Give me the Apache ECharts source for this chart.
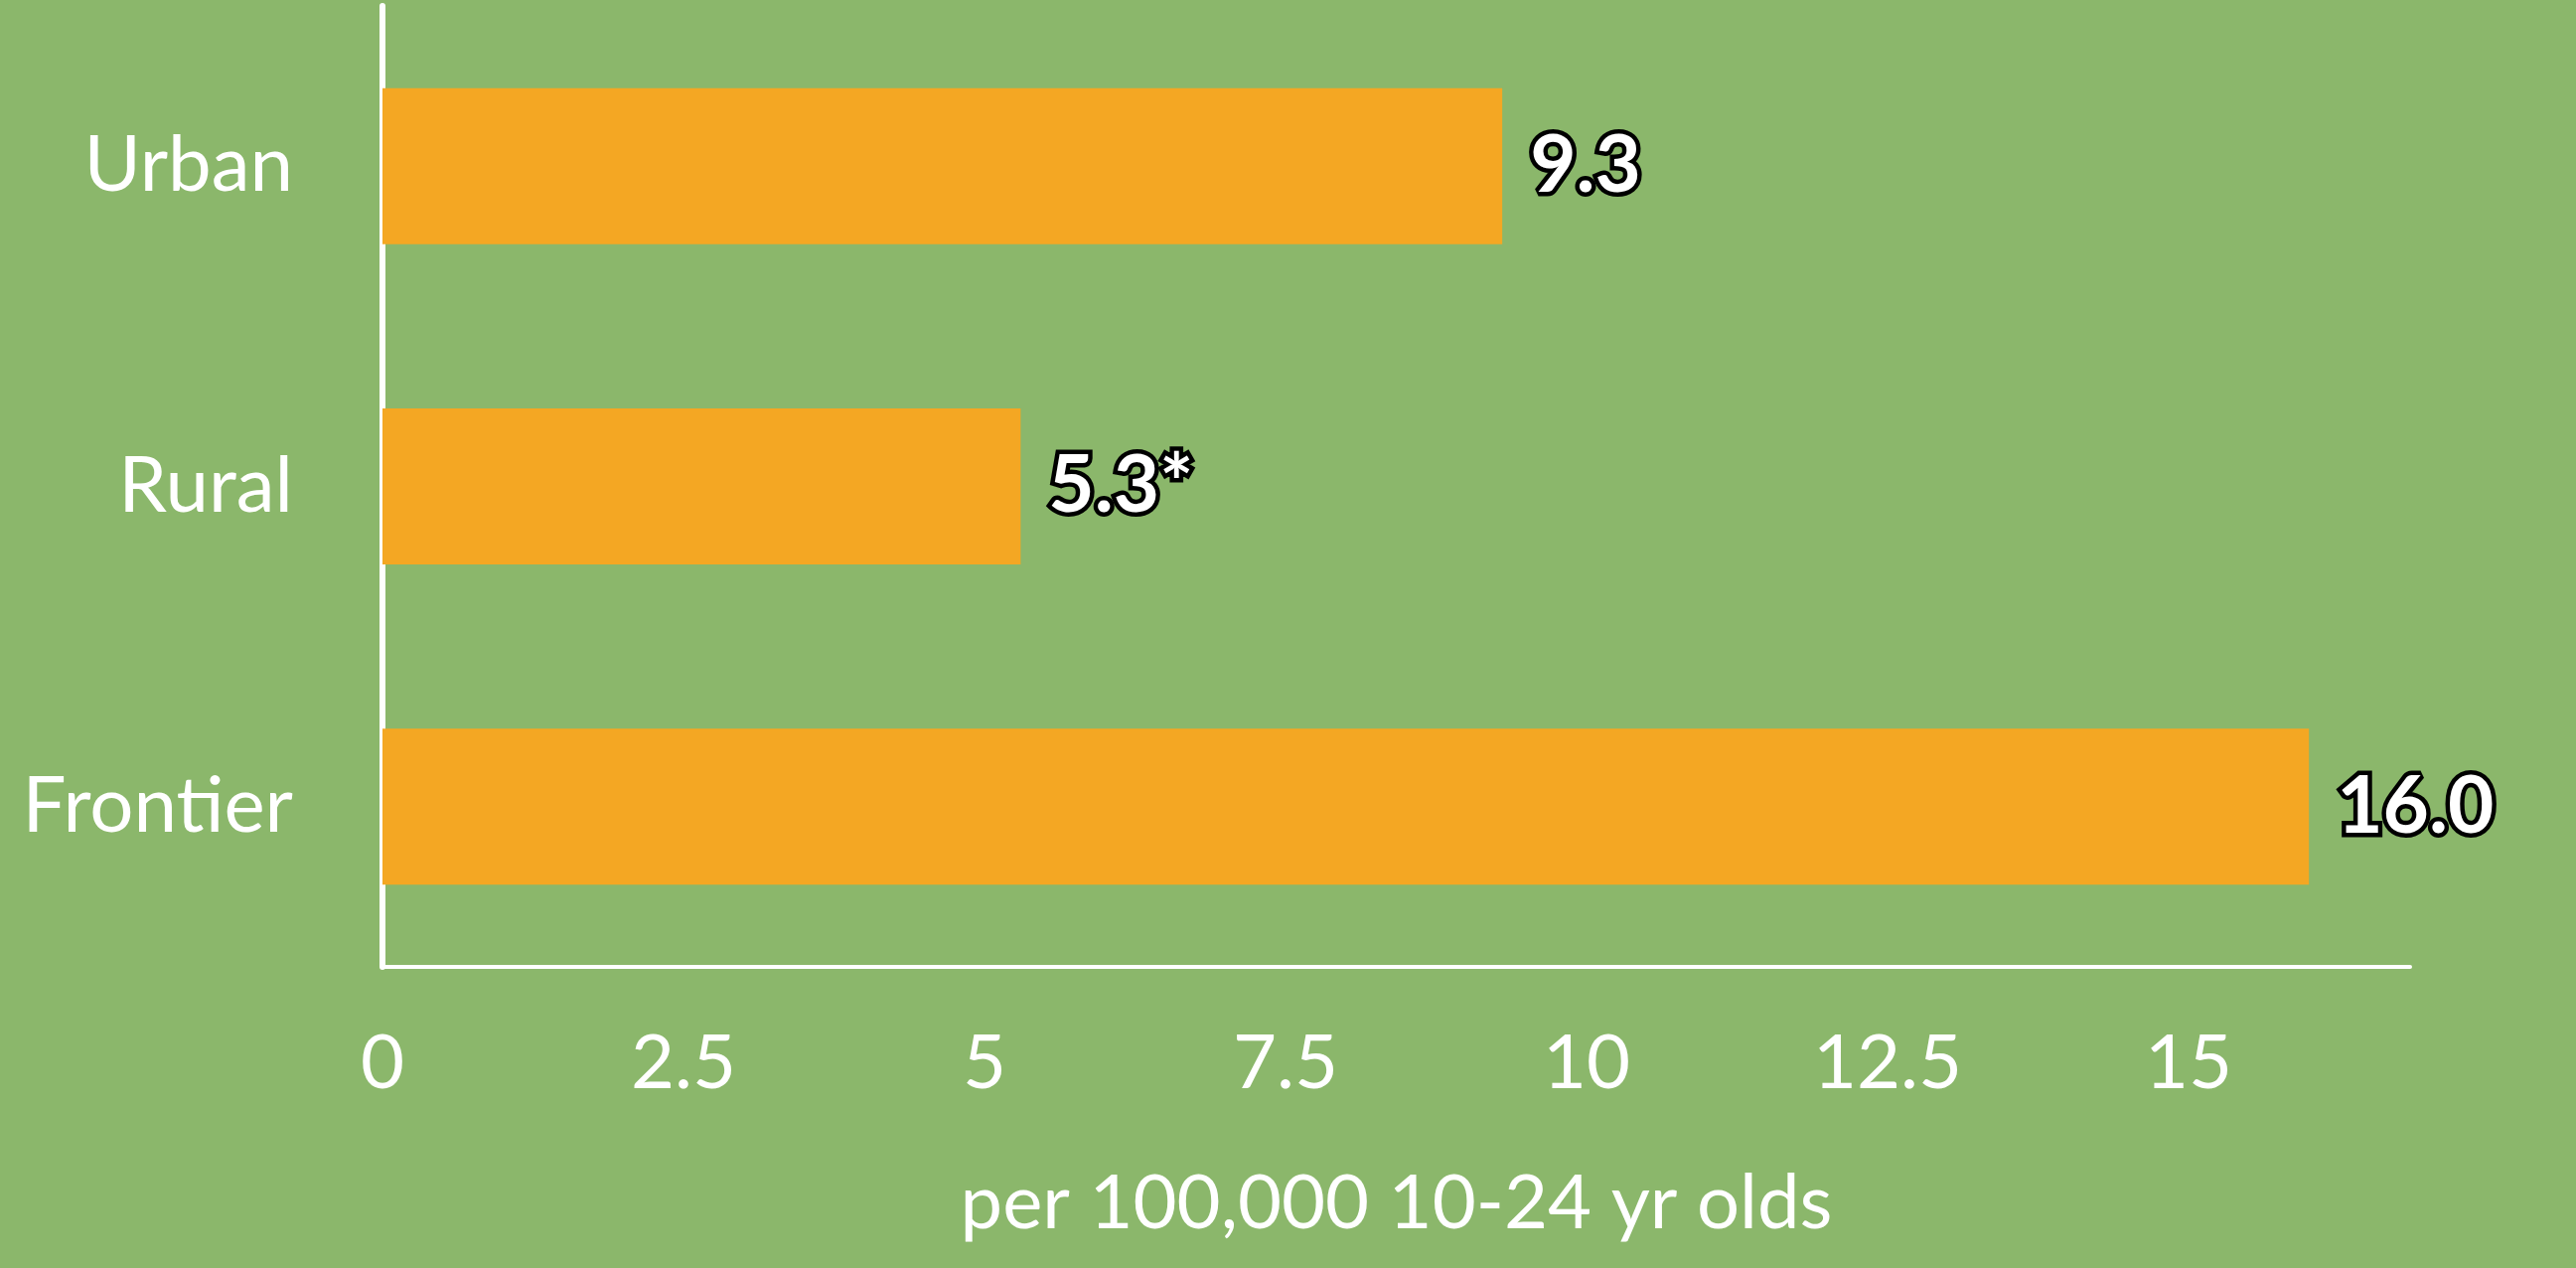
<!DOCTYPE html>
<html><head><meta charset="utf-8">
<script src="https://cdn.jsdelivr.net/npm/echarts@6/dist/echarts.min.js"></script>
<style>html,body{margin:0;padding:0;background:#8BB76B;}#c{width:2593px;height:1276px;}</style>
</head><body><div id="c"></div>
<script>
const categories = ['Urban', 'Rural', 'Frontier'];
const values = [9.3, 5.3, 16.0];
const valueLabels = ['9.3', '5.3*', '16.0'];
const xTicks = [0, 2.5, 5, 7.5, 10, 12.5, 15];
const xAxisTitle = 'per 100,000 10-24 yr olds';

const chart = echarts.init(document.getElementById('c'));
chart.setOption({
  backgroundColor: '#8BB76B',
  animation: false,
  grid: { left: 385, right: 167, top: 6, bottom: 303, containLabel: false },
  xAxis: {
    type: 'value', min: 0, max: 16.84, interval: 2.5,
    name: xAxisTitle, nameLocation: 'middle', nameGap: 200,
    nameTextStyle: { color: '#fff', fontFamily: 'Lato', fontSize: 76 },
    axisLine: { show: true, lineStyle: { color: '#fff', width: 4 } },
    axisTick: { show: false },
    splitLine: { show: false },
    axisLabel: {
      color: '#fff', fontFamily: 'Lato', fontSize: 76, margin: 59,
      showMaxLabel: false,
      formatter: v => xTicks.indexOf(v) >= 0 ? String(v) : ''
    }
  },
  yAxis: {
    type: 'category', data: categories, inverse: true,
    axisLine: { show: true, lineStyle: { color: '#fff', width: 6 } },
    axisTick: { show: false },
    splitLine: { show: false },
    axisLabel: { color: '#fff', fontFamily: 'Lato', fontSize: 78, margin: 90 }
  },
  series: [{
    type: 'bar', data: values, barWidth: 157,
    itemStyle: { color: '#F4A723' },
    label: {
      show: true, position: 'right', distance: 28,
      formatter: p => valueLabels[p.dataIndex],
      color: '#fff', fontFamily: 'Lato', fontWeight: 'bold', fontSize: 80,
      textBorderColor: '#000', textBorderWidth: 9
    }
  }]
});
</script></body></html>
